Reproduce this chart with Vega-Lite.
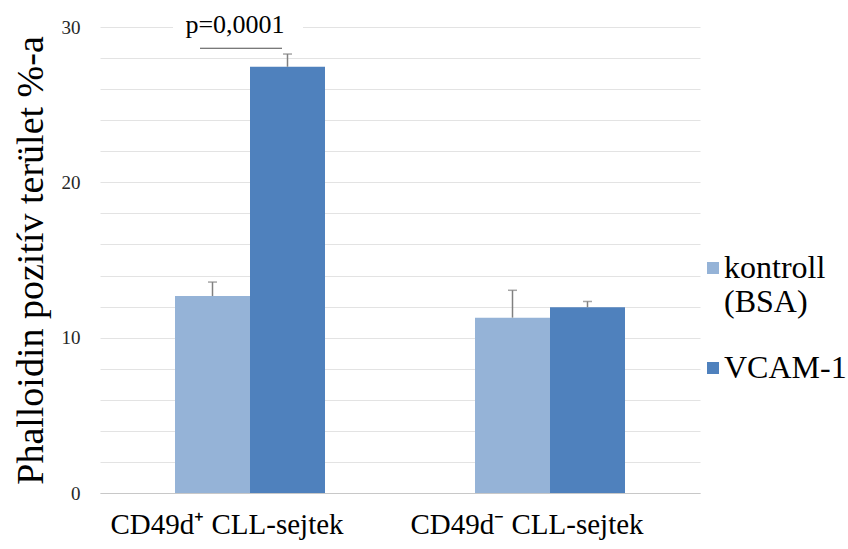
{
  "$schema": "https://vega.github.io/schema/vega-lite/v6.json",
  "width": 600,
  "height": 466,
  "autosize": {"type": "none"},
  "padding": {"left": 100, "top": 27, "right": 148, "bottom": 56},
  "background": "white",
  "config": {
    "font": "serif",
    "view": {"stroke": null},
    "axis": {"labelFont": "serif", "titleFont": "serif"},
    "legend": {"labelFont": "serif", "titleFont": "serif"}
  },
  "datasets": {
    "bars": [
      {"group": "CD49d⁺ CLL-sejtek", "series": "kontroll (BSA)", "value": 12.68, "upper": 13.58},
      {"group": "CD49d⁺ CLL-sejtek", "series": "VCAM-1", "value": 27.44, "upper": 28.26},
      {"group": "CD49d⁻ CLL-sejtek", "series": "kontroll (BSA)", "value": 11.29, "upper": 13.05},
      {"group": "CD49d⁻ CLL-sejtek", "series": "VCAM-1", "value": 11.96, "upper": 12.33}
    ],
    "annot": [
      {"group": "CD49d⁺ CLL-sejtek", "label": "p=0,0001", "texty": 29.6, "liney": 28.63, "boxlo": 28.95, "boxhi": 30.6}
    ]
  },
  "layer": [
    {
      "data": {"name": "bars"},
      "mark": {"type": "bar"},
      "encoding": {
        "x": {
          "field": "group", "type": "nominal", "sort": null,
          "scale": {"paddingInner": 0.5, "paddingOuter": 0.25},
          "axis": {
            "title": null, "labelAngle": 0, "labelFontSize": 29, "labelColor": "#000000",
            "labelPadding": 17, "ticks": false, "domainColor": "#c8c8c8", "domainWidth": 1.2,
            "labelFont": "serif", "labelLimit": 500, "labelOffset": -23
          }
        },
        "xOffset": {"field": "series", "type": "nominal", "sort": null, "scale": {"paddingInner": 0, "paddingOuter": 0}},
        "y": {
          "field": "value", "type": "quantitative",
          "scale": {"domain": [0, 30], "nice": false},
          "axis": {
            "title": "Phalloidin  pozitív terület %-a",
            "titleFontSize": 38, "titleFontWeight": "normal", "titleColor": "#000000", "titleFont": "serif",
            "titlePadding": 11,
            "values": [0, 2, 4, 6, 8, 10, 12, 14, 16, 18, 20, 22, 24, 26, 28, 30],
            "tickCount": 40,
            "labelExpr": "datum.value % 10 == 0 ? datum.label : ''",
            "labelOverlap": false, "labelBound": false,
            "labelFontSize": 19, "labelColor": "#262626", "labelPadding": 20, "labelFont": "serif",
            "ticks": false, "domain": false,
            "gridColor": "#e3e3e3", "gridWidth": 1.2
          }
        },
        "color": {
          "field": "series", "type": "nominal", "sort": null,
          "scale": {"domain": ["kontroll (BSA)", "VCAM-1"], "range": ["#95b3d7", "#4f81bd"]},
          "legend": {
            "title": null, "orient": "none", "legendX": 597, "legendY": 225, "padding": 0,
            "symbolType": "square", "symbolSize": 144, "symbolStrokeWidth": 0,
            "labelFontSize": 32, "labelColor": "#000000", "labelFont": "serif",
            "labelExpr": "datum.label == 'kontroll (BSA)' ? ['kontroll', '(BSA)'] : datum.label",
            "rowPadding": 34, "symbolOffset": 0, "labelOffset": -5, "labelLimit": 300
          }
        }
      }
    },
    {
      "data": {"name": "bars"},
      "mark": {"type": "rule", "color": "#808080", "strokeWidth": 1.5},
      "encoding": {
        "x": {"field": "group", "type": "nominal", "sort": null},
        "xOffset": {"field": "series", "type": "nominal", "sort": null},
        "y": {"field": "value", "type": "quantitative"},
        "y2": {"field": "upper"}
      }
    },
    {
      "data": {"name": "bars"},
      "mark": {"type": "tick", "color": "#808080", "thickness": 1.5, "size": 9, "orient": "horizontal"},
      "encoding": {
        "x": {"field": "group", "type": "nominal", "sort": null},
        "xOffset": {"field": "series", "type": "nominal", "sort": null},
        "y": {"field": "upper", "type": "quantitative"}
      }
    },
    {
      "data": {"name": "annot"},
      "mark": {"type": "bar", "color": "white", "size": 130, "xOffset": -12},
      "encoding": {
        "x": {"field": "group", "type": "nominal", "sort": null},
        "y": {"field": "boxlo", "type": "quantitative"},
        "y2": {"field": "boxhi"}
      }
    },
    {
      "data": {"name": "annot"},
      "mark": {"type": "tick", "color": "#000000", "thickness": 1, "size": 82, "orient": "horizontal", "xOffset": -9},
      "encoding": {
        "x": {"field": "group", "type": "nominal", "sort": null},
        "y": {"field": "liney", "type": "quantitative"}
      }
    },
    {
      "data": {"name": "annot"},
      "mark": {"type": "text", "fontSize": 26, "color": "#000000", "baseline": "alphabetic", "align": "center", "dx": -15, "font": "serif"},
      "encoding": {
        "x": {"field": "group", "type": "nominal", "sort": null},
        "y": {"field": "texty", "type": "quantitative"},
        "text": {"field": "label"}
      }
    }
  ]
}
